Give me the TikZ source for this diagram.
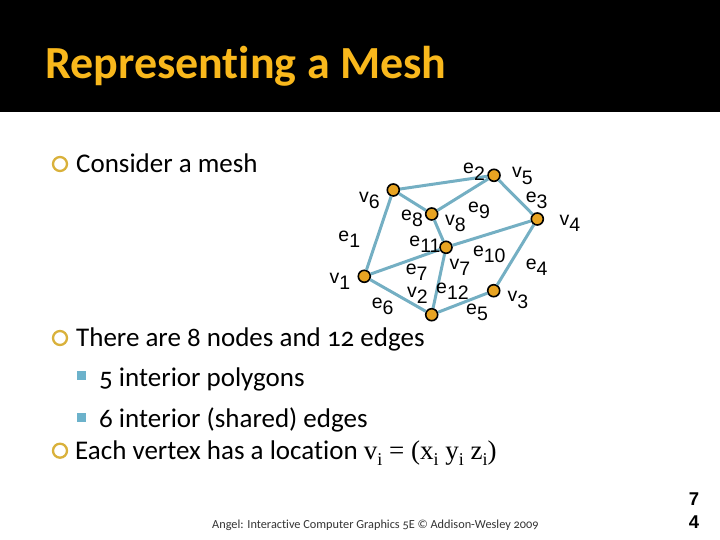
\documentclass[tikz,border=0pt]{standalone}
\usepackage{fontspec}
\setmainfont[Numbers=OldStyle,Ligatures=NoCommon]{Carlito}
\newfontfamily\labelfont{Liberation Sans}
\newfontfamily\mathserif{Liberation Serif}
\definecolor{titlegold}{HTML}{F9B81C}
\definecolor{ringgold}{HTML}{D9B13B}
\definecolor{squareblue}{HTML}{6CB2CB}
\definecolor{meshedge}{HTML}{74AFC3}
\definecolor{vertexfill}{HTML}{E8A422}
\newcommand{\lbl}[2]{#1\raisebox{-0.32em}{#2}}
\newcommand{\idx}[1]{\raisebox{-0.25em}{\fontsize{18}{18}\selectfont #1}}
\tikzset{
  x=1pt, y=-1pt,
  meshline/.style={draw=meshedge, line width=3pt},
  vertexdot/.style={circle, draw=black, fill=vertexfill, line width=1.6pt,
                    minimum size=12pt, inner sep=0pt},
  meshlabel/.style={font=\labelfont\fontsize{19.5}{20}\selectfont, inner sep=0pt},
  pagedigit/.style={font=\labelfont\bfseries\fontsize{18.5}{19}\selectfont, inner sep=0pt},
  bodytext/.style={anchor=base west, inner sep=0pt, text=black,
                   font=\fontsize{27}{30}\selectfont},
  ringbullet/.style={circle, draw=ringgold, line width=2.3pt, minimum size=14pt, inner sep=0pt},
  squarebullet/.style={fill=squareblue, minimum size=9pt, inner sep=0pt},
}
\begin{document}
\begin{tikzpicture}
    \useasboundingbox (0,0) rectangle (720,540);
    \fill[black] (0,0) rectangle (720,112);
    \node[anchor=base west, inner sep=0pt, text=titlegold,
          font=\bfseries\fontsize{46}{50}\selectfont] (title) at (45,78.5) {Representing a Mesh};
    % bullets
    \node[ringbullet] (b1) at (60,164) {};
    \node[bodytext] (t1) at (76,173) {Consider a mesh};
    \node[ringbullet] (b2) at (60,338) {};
    \node[bodytext] (t2) at (76,346) {There are 8 nodes and 12 edges};
    \node[squarebullet] (s1) at (81.7,375.7) {};
    \node[bodytext] (t3) at (99,386) {5 interior polygons};
    \node[squarebullet] (s2) at (81.7,417.3) {};
    \node[bodytext] (t4) at (99,427) {6 interior (shared) edges};
    \node[ringbullet] (b3) at (60,450.7) {};
    \node[bodytext] (t5) at (75,459) {Each vertex has a location {\mathserif v\idx{i} = (x\idx{i} y\idx{i} z\idx{i})}};
    % vertices
    \node[vertexdot] (v1) at (364.3,276.3) {};
    \node[vertexdot] (v2) at (431.7,314.7) {};
    \node[vertexdot] (v3) at (493.7,290.7) {};
    \node[vertexdot] (v4) at (537.3,219) {};
    \node[vertexdot] (v5) at (494,175.3) {};
    \node[vertexdot] (v6) at (393.3,190) {};
    \node[vertexdot] (v7) at (446,247.3) {};
    \node[vertexdot] (v8) at (431.7,214) {};
    % edges
    \foreach \a/\b in {v1/v6,v6/v5,v5/v4,v4/v3,v3/v2,v2/v1,v6/v8,v8/v5,v8/v7,v7/v4,v7/v1,v7/v2}
      \draw[meshline] (\a) -- (\b);
    % labels
    \node[meshlabel] (lv1) at (340,281) {\lbl{v}{1}};
    \node[meshlabel] (lv2) at (417.3,295.7) {\lbl{v}{2}};
    \node[meshlabel] (lv3) at (518,300) {\lbl{v}{3}};
    \node[meshlabel] (lv4) at (570,223.3) {\lbl{v}{4}};
    \node[meshlabel] (lv5) at (522.3,176) {\lbl{v}{5}};
    \node[meshlabel] (lv6) at (369.3,200.7) {\lbl{v}{6}};
    \node[meshlabel] (lv7) at (460,267.3) {\lbl{v}{7}};
    \node[meshlabel] (lv8) at (455.3,223.3) {\lbl{v}{8}};
    \node[meshlabel] (le1) at (349.3,239.3) {\lbl{e}{1}};
    \node[meshlabel] (le2) at (474,171.7) {\lbl{e}{2}};
    \node[meshlabel] (le3) at (536.7,200) {\lbl{e}{3}};
    \node[meshlabel] (le4) at (536.7,267.3) {\lbl{e}{4}};
    \node[meshlabel] (le5) at (477,312) {\lbl{e}{5}};
    \node[meshlabel] (le6) at (382.7,306) {\lbl{e}{6}};
    \node[meshlabel] (le7) at (416.7,272) {\lbl{e}{7}};
    \node[meshlabel] (le8) at (412,218.3) {\lbl{e}{8}};
    \node[meshlabel] (le9) at (479,210) {\lbl{e}{9}};
    \node[meshlabel] (le10) at (489.3,254) {\lbl{e}{10}};
    \node[meshlabel] (le11) at (425,244) {\lbl{e}{11}};
    \node[meshlabel] (le12) at (452.5,291) {\lbl{e}{12}};
    % footer
    \node[anchor=base west, inner sep=0pt, text=black!80, font=\fontsize{12.3}{14}\selectfont] (foot) at (212,528) {Angel: Interactive Computer Graphics 5E © Addison-Wesley 2009};
    \node[pagedigit] (pg1) at (694,499) {7};
    \node[pagedigit] (pg2) at (694,522) {4};
\end{tikzpicture}
\end{document}
